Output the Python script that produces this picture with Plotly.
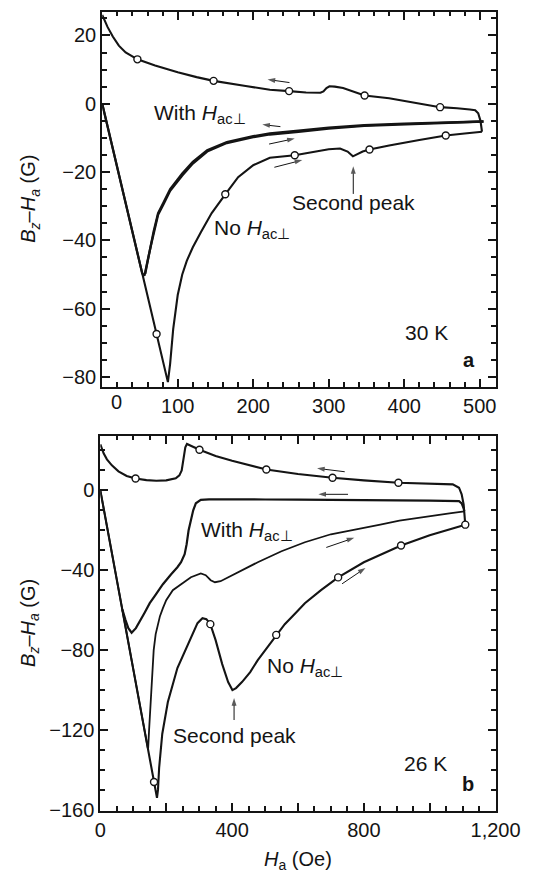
import plotly.graph_objects as go

# ---------------- 30 K : field sweeps (Ha in Oe, Bz-Ha in G) ----------------
a_noac_up_h = [0, 72, 87, 90, 94, 100, 106, 112, 120, 131, 145, 163, 180, 200, 222,
               255, 280, 300, 315, 325, 332, 338, 345, 354, 380, 420, 455, 480, 503]
a_noac_up_b = [0, -67.4, -81.5, -76, -66, -56, -50, -46, -42, -37.5, -32, -26.5, -21.5, -18, -15.8,
               -15.1, -14.2, -13.3, -13.1, -14, -15.4, -14.8, -14, -13.4, -12.2, -10.6, -9.3, -8.7, -8.2]

a_noac_dn_h = [503, 501, 498, 494, 487, 470, 447.5, 420, 400, 380, 347.5, 330, 319, 308, 301,
               297, 293, 289, 270, 247.5, 222, 190, 147.5, 125, 100, 70, 46.6, 31, 22, 14, 7, 0]
a_noac_dn_b = [-8.2, -5, -2.8, -1.9, -1.7, -1.3, -1.0, 0.1, 0.9, 1.6, 2.4, 3.8, 4.6, 5.0, 5.1,
               4.6, 3.6, 3.2, 3.3, 3.7, 4.1, 5.2, 6.7, 7.8, 9.2, 11.2, 13.0, 15, 17, 19.7, 22.5, 26]

a_with_up_h = [0, 53, 56, 58, 61, 64.5, 68, 74, 81, 90, 106, 120, 139, 165, 200, 222,
               260, 300, 347, 400, 450, 505]
a_with_up_b = [0, -49.7, -50.3, -48.5, -45, -41.5, -38, -32.5, -29.5, -25.5, -21, -17.5, -14, -11.5, -9.8, -9,
               -8.2, -7.3, -6.5, -6, -5.6, -5.2]

a_with_dn_h = [505, 450, 400, 347, 300, 260, 222, 200, 165, 139, 120, 106, 90, 81, 74,
               68, 64.5, 61, 58.5, 57]
a_with_dn_b = [-5.2, -5.4, -5.8, -6.3, -7.0, -7.9, -8.7, -9.5, -11.2, -13.6, -17.0, -20.4, -25.0, -29.0, -32.0,
               -37.5, -41.0, -44.5, -48.0, -49.8]

a_circ_h = [46.6, 147.5, 247.5, 347.5, 447.5, 72, 163, 255, 354, 455]
a_circ_b = [13.0, 6.7, 3.7, 2.4, -1.0, -67.4, -26.5, -15.1, -13.4, -9.3]

# sweep-direction arrows: (tail H, tail B, head H, head B)
a_arrows = [(248, 6.2, 219, 7.1), (236, -6.7, 212, -6.1),
            (221, -11.8, 255, -10.2), (228, -18.6, 265, -16.5),
            (332.5, -26.4, 332.5, -18.3)]

# ---------------- 26 K ----------------
b_noac_up_h = [0, 163, 172, 175, 178.5, 188, 205, 234, 277, 295, 310, 322, 334, 350, 370,
               388, 401, 412, 430, 455, 478, 505, 534, 560, 593, 621, 670, 722, 800, 860,
               913, 1000, 1060, 1108]
b_noac_up_b = [0, -146, -154, -150, -139, -122, -106, -89, -73, -66.5, -64, -64.5, -67, -75, -87,
               -96, -100, -99, -96, -91, -85, -79, -72.4, -67, -61.4, -56.5, -50, -43.6, -36, -31.5,
               -27.6, -22.5, -19.5, -17.2]

b_noac_dn_h = [1108, 1105, 1103, 1097, 1089, 1070, 1000, 905, 800, 705, 600, 504, 400, 350,
               301, 275, 263, 258, 253, 247, 240, 229, 200, 170, 140, 107, 80, 55, 35,
               20, 10, 0]
b_noac_dn_b = [-17.2, -12, -7, -2, 1.3, 3.0, 3.3, 3.8, 5.0, 6.3, 8.2, 10.4, 14.8, 17.2,
               20.3, 22.3, 23.2, 21.5, 15, 10, 7.5, 6.0, 5.0, 4.8, 5.1, 5.9, 7.2, 9.5, 12.5,
               15.5, 18.5, 23]

b_with_up_h = [0, 145, 148, 152, 155, 158, 162, 168, 175, 181, 190, 200, 220, 248, 275,
               305, 320, 335, 348, 365, 400, 440, 478, 550, 621, 700, 765, 850, 908, 1000,
               1060, 1105]
b_with_up_b = [0, -129.8, -120, -108, -98, -88, -80, -72, -67, -63, -59, -55, -50, -46.5, -43.5,
               -41.6, -42.5, -45, -46, -45.5, -42.5, -39, -36, -30.5, -26, -22, -20, -17.2, -15.2, -12.8,
               -11.5, -10.5]

b_with_dn_h = [1105, 1103, 1097, 1089, 1000, 900, 800, 700, 600, 500, 400, 330, 305, 290,
               282, 275, 268, 262, 256, 245, 234, 215, 190, 165, 150, 134, 120, 108, 95,
               85, 76, 67]
b_with_dn_b = [-10.5, -9, -6.5, -5.4, -5.2, -5.0, -4.9, -4.8, -4.7, -4.6, -4.5, -4.5, -4.8, -6.5,
               -10, -15, -20, -27, -32, -36, -38.5, -42, -47, -53, -56.5, -61.4, -65.5, -69, -71.3,
               -69, -64.7, -59.7]

b_circ_h = [107, 301, 504, 705, 905, 1108, 163, 334, 534, 722, 913]
b_circ_b = [5.9, 20.3, 10.4, 6.3, 3.8, -17.2, -146, -67, -72.4, -43.6, -27.6]

b_arrows = [(742, 9.3, 658, 11.0), (752, -2.0, 662, -2.0),
            (686, -28.6, 771, -23.8), (734, -46.8, 805, -38.9),
            (406, -115.0, 406, -104.0)]

# axis ticks
a_xticks = [100, 200, 300, 400, 500]

FONT = "Liberation Sans, Arial, Helvetica, sans-serif"
INK = "#141414"
W, H = 547, 881

fig = go.Figure()


def curve(h, b, xa, ya, width=2.2):
    fig.add_trace(go.Scatter(x=h, y=b, mode="lines", xaxis=xa, yaxis=ya,
                             line=dict(color=INK, width=width),
                             showlegend=False, hoverinfo="skip"))


def circles(h, b, xa, ya):
    fig.add_trace(go.Scatter(x=h, y=b, mode="markers", xaxis=xa, yaxis=ya,
                             marker=dict(symbol="circle", size=7, color="white",
                                         line=dict(color=INK, width=1.4)),
                             showlegend=False, hoverinfo="skip"))


def arrows(specs, xa, ya):
    for tx, ty, hx, hy in specs:
        fig.add_trace(go.Scatter(x=[tx, hx], y=[ty, hy], mode="lines+markers",
                                 xaxis=xa, yaxis=ya,
                                 line=dict(color=INK, width=1.0),
                                 marker=dict(symbol="arrow", size=[0, 8], color=INK,
                                             angleref="previous", line=dict(width=0)),
                                 showlegend=False, hoverinfo="skip"))


curve(a_noac_up_h, a_noac_up_b, "x", "y", 2.1)
curve(a_noac_dn_h, a_noac_dn_b, "x", "y", 2.1)
curve(a_with_up_h, a_with_up_b, "x", "y", 2.3)
curve(a_with_dn_h, a_with_dn_b, "x", "y", 2.3)
circles(a_circ_h, a_circ_b, "x", "y")
arrows(a_arrows, "x", "y")

curve(b_noac_up_h, b_noac_up_b, "x2", "y2", 2.1)
curve(b_noac_dn_h, b_noac_dn_b, "x2", "y2", 2.1)
curve(b_with_up_h, b_with_up_b, "x2", "y2", 1.8)
curve(b_with_dn_h, b_with_dn_b, "x2", "y2", 2.2)
circles(b_circ_h, b_circ_b, "x2", "y2")
arrows(b_arrows, "x2", "y2")


def dom_x(left, right):
    return [left / W, right / W]


def dom_y(top, bottom):
    return [1 - bottom / H, 1 - top / H]


axis_style = dict(showline=True, linewidth=2, linecolor=INK, mirror="allticks",
                  ticks="inside", tickcolor=INK, tickwidth=1.5, ticklen=8,
                  showgrid=False, zeroline=False,
                  tickfont=dict(family=FONT, size=20, color=INK))


def minor(step):
    return dict(dtick=step, tick0=0, ticks="inside", ticklen=4.5,
                tickwidth=1.5, tickcolor=INK, showgrid=False)


fig.update_layout(
    width=W, height=H, margin=dict(l=0, r=0, t=0, b=0),
    paper_bgcolor="white", plot_bgcolor="white", showlegend=False,
    separators=".,",
    xaxis=dict(axis_style, domain=dom_x(102, 519), range=[0, 521], anchor="y",
               tickmode="array", tickvals=a_xticks, minor=minor(20)),
    yaxis=dict(axis_style, domain=dom_y(12, 391), range=[-82.8, 26.9], anchor="x",
               tickmode="linear", tick0=0, dtick=20, minor=minor(5)),
    xaxis2=dict(axis_style, domain=dom_x(100, 519), range=[0, 1200], anchor="y2",
                tickmode="linear", tick0=0, dtick=200, ticklabelstep=2,
                tickformat=",d", minor=minor(50)),
    yaxis2=dict(axis_style, domain=dom_y(441, 820), range=[-160.4, 27.2], anchor="x2",
                tickmode="linear", tick0=0, dtick=40, minor=minor(10)),
)

ann = []


def text(x, y, s, xr, yr, size=21, xanchor="left", bold=False):
    ann.append(dict(x=x, y=y, xref=xr, yref=yr, text=f"<b>{s}</b>" if bold else s,
                    showarrow=False, xanchor=xanchor, yanchor="middle",
                    font=dict(family=FONT, size=size, color=INK)))


HAC = "<i>H</i><sub>ac⊥</sub>"

# panel a labels
text(66, -2.9, "With " + HAC, "x", "y")
text(145, -36.7, "No " + HAC, "x", "y")
text(332.5, -28.8, "Second peak", "x", "y", xanchor="center")
text(429, -67, "30 K", "x", "y", xanchor="center")
text(486, -75.1, "a", "x", "y", size=20, xanchor="center", bold=True)

# panel b labels
text(300.7, -20.3, "With " + HAC, "x2", "y2")
text(501, -88.6, "No " + HAC, "x2", "y2")
text(406, -123, "Second peak", "x2", "y2", xanchor="center")
text(987, -137, "26 K", "x2", "y2", xanchor="center")
text(1117, -147, "b", "x2", "y2", size=20, xanchor="center", bold=True)

# axis titles and the offset zero label of panel a
ytitle = "<i>B<sub>z</sub></i>–<i>H<sub>a</sub></i> (G)"
for yc in [(12 + 391) / 2, (441 + 820) / 2]:
    ann.append(dict(x=25 / W, y=1 - yc / H, xref="paper", yref="paper", text=ytitle,
                    textangle=-90, showarrow=False, xanchor="center", yanchor="middle",
                    font=dict(family=FONT, size=20, color=INK)))
ann.append(dict(x=309.5 / W, y=1 - 870 / H, xref="paper", yref="paper",
                text="<i>H</i><sub>a</sub> (Oe)", showarrow=False,
                xanchor="center", yanchor="middle", font=dict(family=FONT, size=20, color=INK)))
ann.append(dict(x=117 / W, y=1 - 407 / H, xref="paper", yref="paper", text="0",
                showarrow=False, xanchor="center", yanchor="middle",
                font=dict(family=FONT, size=20, color=INK)))

fig.update_layout(annotations=ann)
fig.write_html("out.html")
